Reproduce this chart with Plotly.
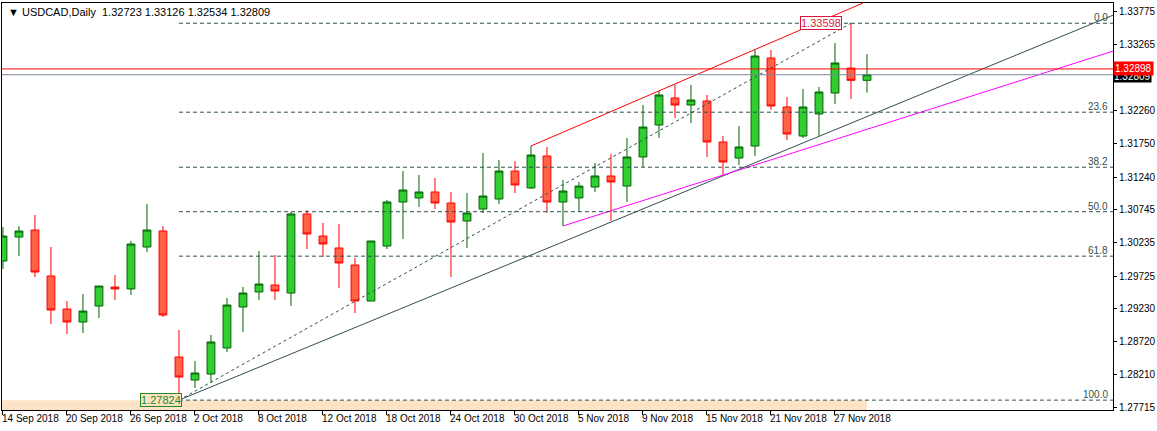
import plotly.graph_objects as go

# daily USDCAD bars, 14 Sep 2018 .. 29 Nov 2018 (bar index = trading day)
opens = [1.29955, 1.30323, 1.30430, 1.29726, 1.29220, 1.29021, 1.29266, 1.29557, 1.29527, 1.30170,
         1.30415, 1.28485, 1.28132, 1.28224, 1.28623, 1.29251, 1.29481, 1.29588, 1.29465, 1.30676,
         1.30338, 1.30155, 1.29894, 1.29343, 1.30185, 1.30859, 1.30921, 1.31013, 1.30844, 1.30568,
         1.30752, 1.30905, 1.31334, 1.31074, 1.31564, 1.30859, 1.30921, 1.31089, 1.31258, 1.31104,
         1.31549, 1.32039, 1.32453, 1.32345, 1.32407, 1.31779, 1.31533, 1.31717, 1.33065, 1.32315,
         1.31870, 1.32208, 1.32529, 1.32912, 1.32723]
highs = [1.30476, 1.30492, 1.30660, 1.30170, 1.29343, 1.29450, 1.29572, 1.29741, 1.30262, 1.30829,
         1.30492, 1.28898, 1.28423, 1.28822, 1.29389, 1.29557, 1.30109, 1.30047, 1.30706, 1.30737,
         1.30538, 1.30522, 1.30001, 1.30262, 1.30890, 1.31334, 1.31273, 1.31227, 1.31013, 1.30997,
         1.31610, 1.31503, 1.31487, 1.31717, 1.31702, 1.31196, 1.31166, 1.31457, 1.31595, 1.31840,
         1.32345, 1.32560, 1.32652, 1.32652, 1.32499, 1.31870, 1.32024, 1.33188, 1.33188, 1.32468,
         1.32591, 1.32621, 1.33295, 1.33598, 1.33126]
lows = [1.29833, 1.30032, 1.29710, 1.28990, 1.28837, 1.28852, 1.29082, 1.29358, 1.29435, 1.30093,
        1.29098, 1.27824, 1.28010, 1.28086, 1.28561, 1.28868, 1.29358, 1.29358, 1.29266, 1.30139,
        1.30017, 1.29542, 1.29159, 1.29343, 1.30139, 1.30293, 1.30783, 1.30752, 1.29710, 1.30155,
        1.30691, 1.30829, 1.30997, 1.31059, 1.30691, 1.30492, 1.30706, 1.31013, 1.30568, 1.30859,
        1.31396, 1.31840, 1.32146, 1.32070, 1.31549, 1.31273, 1.31426, 1.31564, 1.32269, 1.31809,
        1.31840, 1.31870, 1.32361, 1.32437, 1.32534]
closes = [1.30338, 1.30415, 1.29787, 1.29205, 1.29021, 1.29189, 1.29572, 1.29527, 1.30216, 1.30430,
          1.29128, 1.28178, 1.28240, 1.28715, 1.29281, 1.29465, 1.29603, 1.29496, 1.30676, 1.30369,
          1.30216, 1.29925, 1.29343, 1.30262, 1.30859, 1.31043, 1.31013, 1.30844, 1.30553, 1.30691,
          1.30951, 1.31334, 1.31120, 1.31579, 1.30859, 1.31028, 1.31104, 1.31258, 1.31166, 1.31549,
          1.32008, 1.32499, 1.32345, 1.32422, 1.31779, 1.31472, 1.31702, 1.33096, 1.32330, 1.31901,
          1.32315, 1.32545, 1.32989, 1.32723, 1.32809]

date_ticks = [0, 4, 8, 12, 16, 20, 24, 28, 32, 36, 40, 44, 48, 52]
date_labels = ['14 Sep 2018', '20 Sep 2018', '26 Sep 2018', '2 Oct 2018', '8 Oct 2018', '12 Oct 2018',
               '18 Oct 2018', '24 Oct 2018', '30 Oct 2018', '5 Nov 2018', '9 Nov 2018', '15 Nov 2018',
               '21 Nov 2018', '27 Nov 2018']
price_ticks = [1.33775, 1.33265, 1.32260, 1.31750, 1.31240, 1.30745, 1.30235, 1.29725,
               1.29230, 1.28720, 1.28210, 1.27715]

fib_low, fib_high = 1.27824, 1.33598
fib_levels = [0.0, 23.6, 38.2, 50.0, 61.8, 100.0]
resistance = 1.32898
last_price = 1.32809

# trend lines: (bar, price) pairs
black_line = ([11, 69.4], [1.27824, 1.33724])
diag_line = ([11, 53], [1.27824, 1.33598])
red_line = ([33, 53.75], [1.31717, 1.33908])
magenta_line = ([35, 69.4], [1.30492, 1.33173])

x = list(range(len(opens)))
X0, X1 = -0.06, 69.375
Y0, Y1 = 1.27673, 1.33908
FONT = 'Liberation Sans'

fig = go.Figure()

fig.add_shape(type='rect', x0=X0, x1=54, y0=Y0, y1=fib_low, fillcolor='#FDE3C6',
              line_width=0, layer='below')

for lv in fib_levels:
    yv = fib_high - (fib_high - fib_low) * lv / 100
    fig.add_shape(type='line', x0=11, x1=X1, y0=yv, y1=yv,
                  line=dict(color='#2F4F4F', width=1, dash='4px,3px'))
    fig.add_annotation(x=X1 - 0.2, y=yv, text=f'{lv:.1f}', showarrow=False, xanchor='right',
                       yanchor='bottom', yshift=-2, font=dict(size=10, color='#2F4F4F'))

fig.add_hline(y=resistance, line=dict(color='red', width=1))
fig.add_hline(y=last_price, line=dict(color='#778899', width=1))

fig.add_trace(go.Scatter(x=black_line[0], y=black_line[1], mode='lines',
                         line=dict(color='#2F4F4F', width=1)))
fig.add_trace(go.Scatter(x=diag_line[0], y=diag_line[1], mode='lines',
                         line=dict(color='#2F4F4F', width=1, dash='3px,3px')))
fig.add_trace(go.Scatter(x=red_line[0], y=red_line[1], mode='lines',
                         line=dict(color='red', width=1)))
fig.add_trace(go.Scatter(x=magenta_line[0], y=magenta_line[1], mode='lines',
                         line=dict(color='magenta', width=1)))

fig.add_trace(go.Candlestick(
    x=x, open=opens, high=highs, low=lows, close=closes, whiskerwidth=0,
    increasing=dict(fillcolor='#32CD32', line=dict(color='#006400', width=1)),
    decreasing=dict(fillcolor='#FF6347', line=dict(color='red', width=1)),
))

# date labels, left aligned next to the tick like the terminal does
for t, lab in zip(date_ticks, date_labels):
    fig.add_annotation(x=t, y=0, yref='paper', text=lab, showarrow=False, xanchor='left',
                       yanchor='top', xshift=-3, yshift=-1, font=dict(size=10, color='black'))

fig.add_annotation(x=0, y=1, xref='paper', yref='paper', xanchor='left', yanchor='top',
                   text='▼ USDCAD,Daily  1.32723 1.33126 1.32534 1.32809', showarrow=False,
                   xshift=4, yshift=-1, font=dict(size=11, color='black'))
fig.add_annotation(x=9.9, y=fib_low, text='1.27824', showarrow=False, xanchor='center',
                   font=dict(size=11, color='#228B22'), bordercolor='#228B22', borderwidth=1,
                   borderpad=0, bgcolor='#FDE3C6')
fig.add_annotation(x=51.1, y=fib_high, text='1.33598', showarrow=False, xanchor='center',
                   font=dict(size=11, color='#DC143C'), bordercolor='#DC143C', borderwidth=1,
                   borderpad=0, bgcolor='white')
fig.add_annotation(x=1, xref='paper', y=last_price, text='1.32809', showarrow=False,
                   xanchor='left', bgcolor='black', font=dict(size=10, color='white'),
                   borderpad=0, yshift=-2)
fig.add_annotation(x=1, xref='paper', y=resistance, text='1.32898', showarrow=False,
                   xanchor='left', bgcolor='red', font=dict(size=10, color='white'), borderpad=1)

fig.update_layout(
    width=1157, height=431, margin=dict(l=2, r=44, t=3, b=21, autoexpand=False),
    paper_bgcolor='white', plot_bgcolor='white', showlegend=False,
    font=dict(family=FONT, size=10, color='black'),
    xaxis=dict(range=[X0, X1], rangeslider_visible=False, showgrid=False, zeroline=False,
               tickvals=date_ticks, showticklabels=False, ticks='outside', ticklen=4,
               tickcolor='black', showline=True, linecolor='black', mirror=True,
               automargin=False),
    yaxis=dict(range=[Y0, Y1], side='right', showgrid=False, zeroline=False,
               tickvals=price_ticks, ticktext=[f'{v:.5f}' for v in price_ticks],
               ticks='outside', ticklen=3, tickcolor='black', tickfont=dict(size=10),
               showline=True, linecolor='black', mirror=True, automargin=False),
)

fig.write_html('out.html', config={'displayModeBar': False},
               post_script="document.body.style.margin='0';")
